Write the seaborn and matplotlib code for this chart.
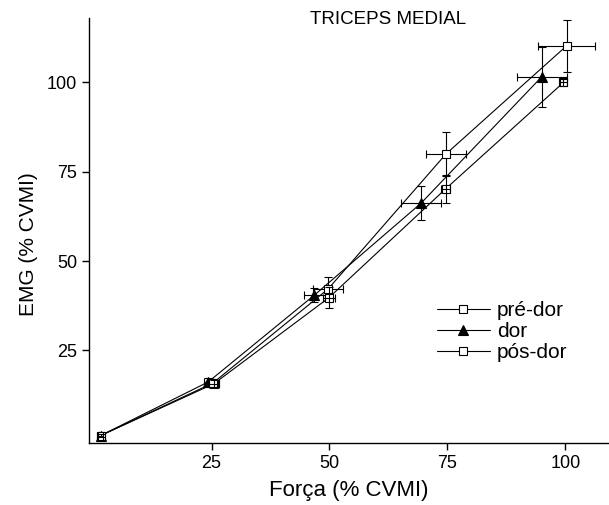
import matplotlib
matplotlib.use("Agg")
import matplotlib.pyplot as plt
import seaborn as sns
import pandas as pd

sns.set_style("ticks")
plt.rcParams['font.family'] = ['Liberation Sans', 'DejaVu Sans']
plt.rcParams['text.color'] = 'black'
plt.rcParams['axes.labelcolor'] = 'black'

# Data
pre_x = [1.5, 25.5, 49.9, 74.6, 99.6]
pre_y = [1.2, 15.7, 39.8, 70.2, 100.0]
pre_xerr = [0.5, 1.0, 1.2, 1.0, 0.8]
pre_yerr = [0.5, 1.0, 2.9, 4.0, 1.0]

dor_x = [1.5, 24.3, 46.8, 69.4, 95.0]
dor_y = [1.2, 16.2, 40.5, 66.2, 101.6]
dor_xerr = [0.5, 1.0, 2.2, 4.2, 5.3]
dor_yerr = [0.5, 1.0, 2.0, 4.8, 8.4]

pos_x = [1.5, 25.3, 49.7, 74.7, 100.3]
pos_y = [1.2, 15.9, 42.2, 80.0, 110.3]
pos_xerr = [0.5, 1.2, 3.2, 4.2, 6.0]
pos_yerr = [0.5, 1.0, 3.3, 6.2, 7.3]

labels = ["pré-dor", "dor", "pós-dor"]
ticks = [25, 50, 75, 100]

fig = plt.figure(figsize=(6.09, 5.05), dpi=100)
ax = fig.add_axes([0.146, 0.122, 0.852, 0.842])

series = [
    (pre_x, pre_y, pre_xerr, pre_yerr, labels[0], 's', 'white', 6, 4),
    (dor_x, dor_y, dor_xerr, dor_yerr, labels[1], '^', 'black', 7.5, 1),
    (pos_x, pos_y, pos_xerr, pos_yerr, labels[2], 's', 'white', 6, 1),
]

for xs, ys, xe, ye, lab, mk, fc, ms, ez in series:
    df = pd.DataFrame({"x": xs, "y": ys})
    ax.errorbar(xs, ys, xerr=xe, yerr=ye, fmt='none', ecolor='black',
                elinewidth=0.8, capsize=3, capthick=0.8, zorder=ez)
    sns.lineplot(data=df, x="x", y="y", ax=ax, sort=False, color='black',
                 linewidth=0.8, marker=mk, markersize=ms, markerfacecolor=fc,
                 markeredgecolor='black', markeredgewidth=0.8, label=lab,
                 zorder=3)

ax.set_xlim(-1, 109)
ax.set_ylim(-1, 118)
ax.set_xticks(ticks)
ax.set_yticks(ticks)
ax.tick_params(direction='out', length=5, width=1, labelsize=13,
               colors='black', labelcolor='black')
for s in ['top', 'right']:
    ax.spines[s].set_visible(False)
for s in ['left', 'bottom']:
    ax.spines[s].set_linewidth(1.0)
    ax.spines[s].set_color('black')

ax.set_xlabel("Força (% CVMI)", fontsize=16)
ax.xaxis.set_label_coords(0.5, -0.085)
ax.set_ylabel("EMG (% CVMI)", fontsize=15)
ax.yaxis.set_label_coords(-0.098, 0.469)
ax.text(0.576, 0.997, "TRICEPS MEDIAL", transform=ax.transAxes, ha='center',
        va='center', fontsize=13.5)

leg = ax.legend(loc='upper left', bbox_to_anchor=(0.67, 0.335), frameon=False,
                fontsize=15, handlelength=2.55, handletextpad=0.35,
                labelspacing=0.1, borderaxespad=0, borderpad=0)

fig.savefig("out.png", dpi=100)
